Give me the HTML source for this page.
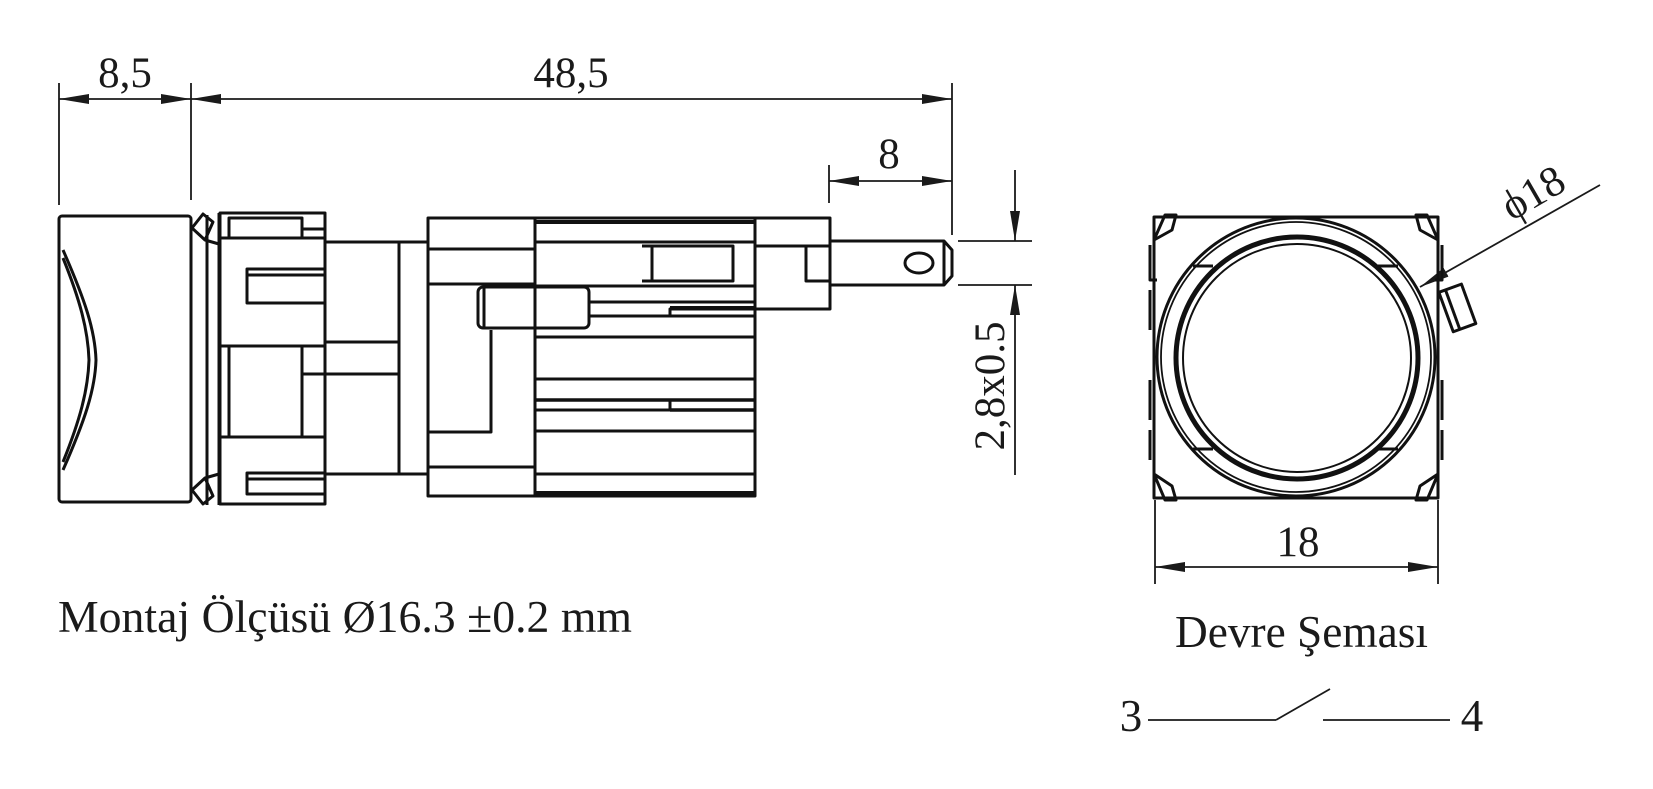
<!DOCTYPE html>
<html><head><meta charset="utf-8"><style>
html,body{margin:0;padding:0;background:#fff;}
svg{display:block;}
text{font-family:"Liberation Serif",serif;fill:#1a1a1a;}
</style></head><body>
<svg width="1653" height="789" viewBox="0 0 1653 789" xmlns="http://www.w3.org/2000/svg">
<defs>
<marker id="a" viewBox="0 0 30 10" refX="30" refY="5" markerWidth="30" markerHeight="10" markerUnits="userSpaceOnUse" orient="auto-start-reverse" preserveAspectRatio="none"><path d="M0,0 L30,5 L0,10 Z" fill="#1a1a1a"/></marker>
</defs>
<g stroke="#1a1a1a" stroke-width="1.8" fill="none">
<line x1="59" y1="83" x2="59" y2="205"/>
<line x1="191" y1="83" x2="191" y2="200"/>
<line x1="952" y1="83" x2="952" y2="235"/>
<line x1="59" y1="99" x2="191" y2="99" marker-start="url(#a)" marker-end="url(#a)"/>
<line x1="191" y1="99" x2="952" y2="99" marker-start="url(#a)" marker-end="url(#a)"/>
<line x1="829" y1="165" x2="829" y2="203"/>
<line x1="829" y1="181" x2="952" y2="181" marker-start="url(#a)" marker-end="url(#a)"/>
<line x1="958" y1="241" x2="1032" y2="241"/>
<line x1="958" y1="285" x2="1032" y2="285"/>
<line x1="1015" y1="170" x2="1015" y2="241" marker-end="url(#a)"/>
<line x1="1015" y1="475" x2="1015" y2="285" marker-end="url(#a)"/>
<line x1="1155" y1="500" x2="1155" y2="584"/>
<line x1="1438" y1="500" x2="1438" y2="584"/>
<line x1="1155" y1="567" x2="1438" y2="567" marker-start="url(#a)" marker-end="url(#a)"/>
<line x1="1600" y1="185" x2="1420" y2="287" marker-end="url(#a)"/>
<line x1="1148" y1="720" x2="1276" y2="720"/>
<line x1="1276" y1="720" x2="1330" y2="689"/>
<line x1="1323" y1="720" x2="1450" y2="720"/>
</g>
<g stroke="#111" stroke-width="3" fill="none" stroke-linejoin="round">
<rect x="59" y="216" width="132" height="286" rx="3"/>
<path d="M63,250 C85,300 95,330 96,360 C95,390 85,420 63,470"/>
<path d="M63,258 C80,300 88,330 89,360 C88,390 80,420 63,462"/>
<line x1="207" y1="215" x2="207" y2="505"/>
<line x1="219" y1="213" x2="219" y2="505"/>
<path d="M192,228 L203,214 L213,222 L205,240 Z M205,240 L219,244"/>
<path d="M192,490 L203,504 L213,496 L205,478 Z M205,478 L219,474"/>
<rect x="220" y="213" width="105" height="291"/>
<rect x="229" y="218" width="73" height="20"/>
<line x1="302" y1="229" x2="325" y2="229"/>
<line x1="220" y1="238" x2="325" y2="238"/>
<line x1="220" y1="346" x2="325" y2="346"/>
<rect x="229" y="346" width="73" height="91"/>
<line x1="220" y1="437" x2="325" y2="437"/>
<rect x="247" y="269" width="78" height="34"/>
<line x1="247" y1="275" x2="325" y2="275"/>
<rect x="247" y="473" width="78" height="21"/>
<line x1="247" y1="479" x2="325" y2="479"/>
<path d="M325,242 H399 V342 H325"/>
<path d="M302,374 H399 V474 H325"/>
<line x1="399" y1="242" x2="428" y2="242"/>
<line x1="399" y1="474" x2="428" y2="474"/>
<line x1="399" y1="342" x2="399" y2="374"/>
<rect x="428" y="218" width="107" height="278"/>
<line x1="428" y1="249" x2="535" y2="249"/>
<line x1="428" y1="284" x2="535" y2="284"/>
<line x1="428" y1="467" x2="535" y2="467"/>
<path d="M428,432 H491 V330"/>
<rect x="478" y="287" width="111" height="41" rx="5"/>
<line x1="484" y1="287" x2="484" y2="328"/>
<rect x="535" y="218" width="220" height="278"/>
<line x1="535" y1="222" x2="755" y2="222" stroke-width="4"/>
<line x1="535" y1="242" x2="755" y2="242"/>
<line x1="535" y1="286" x2="755" y2="286"/>
<line x1="589" y1="302" x2="755" y2="302"/>
<path d="M589,316 H670 V309 H755" />
<line x1="670" y1="308" x2="755" y2="308" stroke-width="4"/>
<line x1="670" y1="316" x2="755" y2="316" stroke-width="3"/>
<line x1="535" y1="337" x2="755" y2="337"/>
<line x1="535" y1="379" x2="755" y2="379"/>
<line x1="535" y1="400" x2="755" y2="400" stroke-width="3.5"/>
<path d="M535,410 H670 V400"/>
<line x1="670" y1="410" x2="755" y2="410" stroke-width="3.5"/>
<line x1="535" y1="431" x2="755" y2="431"/>
<line x1="535" y1="474" x2="755" y2="474"/>
<line x1="535" y1="493" x2="755" y2="493" stroke-width="4"/>
<rect x="652" y="246" width="81" height="35"/>
<line x1="642" y1="246" x2="652" y2="246"/>
<line x1="642" y1="281" x2="652" y2="281"/>
<rect x="755" y="218" width="75" height="91"/>
<line x1="755" y1="246" x2="830" y2="246"/>
<path d="M830,281 H806 V246"/>
<path d="M830,241 H944 L952,250 V276 L944,285 H830"/>
<line x1="944" y1="241" x2="944" y2="285"/>
<ellipse cx="919" cy="263" rx="14" ry="10"/>
<rect x="1154" y="217" width="284" height="281"/>
<circle cx="1296" cy="357" r="139"/>
<circle cx="1296" cy="357" r="135" stroke-width="1.8"/>
<circle cx="1297" cy="358" r="121" stroke-width="5"/>
<circle cx="1297" cy="358" r="114" stroke-width="2"/>
<path d="M1193,266 H1213 M1378,266 H1398 M1193,449 H1213 M1378,449 H1398"/>
<path d="M1154,240 L1165,215 L1176,215 L1172,230 Z M1438,240 L1427,215 L1416,215 L1420,230 Z M1154,474 L1165,500 L1176,500 L1172,486 Z M1438,474 L1427,500 L1416,500 L1420,486 Z"/>
<path d="M1150,245 V280 H1157 M1442,245 V280 H1435"/>
<path d="M1150,290 V330 M1150,380 V420 M1442,380 V420 M1442,430 V460 M1150,430 V460"/>
<g transform="translate(1457,307) rotate(-20)"><rect x="-12" y="-20" width="24" height="42"/><line x1="-5" y1="-20" x2="-5" y2="22"/></g>
</g>
<text x="125" y="87" font-size="43" text-anchor="middle">8,5</text>
<text x="571" y="87" font-size="43" text-anchor="middle">48,5</text>
<text x="889" y="168" font-size="43" text-anchor="middle">8</text>
<text transform="translate(1004,386) rotate(-90)" font-size="43" text-anchor="middle">2,8x0.5</text>
<text transform="translate(1540,205) rotate(-30)" font-size="43" text-anchor="middle">ϕ18</text>
<text x="1298" y="556" font-size="43" text-anchor="middle">18</text>
<text x="58" y="632" font-size="45" textLength="574" lengthAdjust="spacingAndGlyphs">Montaj Ölçüsü Ø16.3 ±0.2 mm</text>
<text x="1175" y="647" font-size="45" textLength="253" lengthAdjust="spacingAndGlyphs">Devre Şeması</text>
<text x="1131" y="731" font-size="45" text-anchor="middle">3</text>
<text x="1472" y="731" font-size="45" text-anchor="middle">4</text>
</svg>
</body></html>
